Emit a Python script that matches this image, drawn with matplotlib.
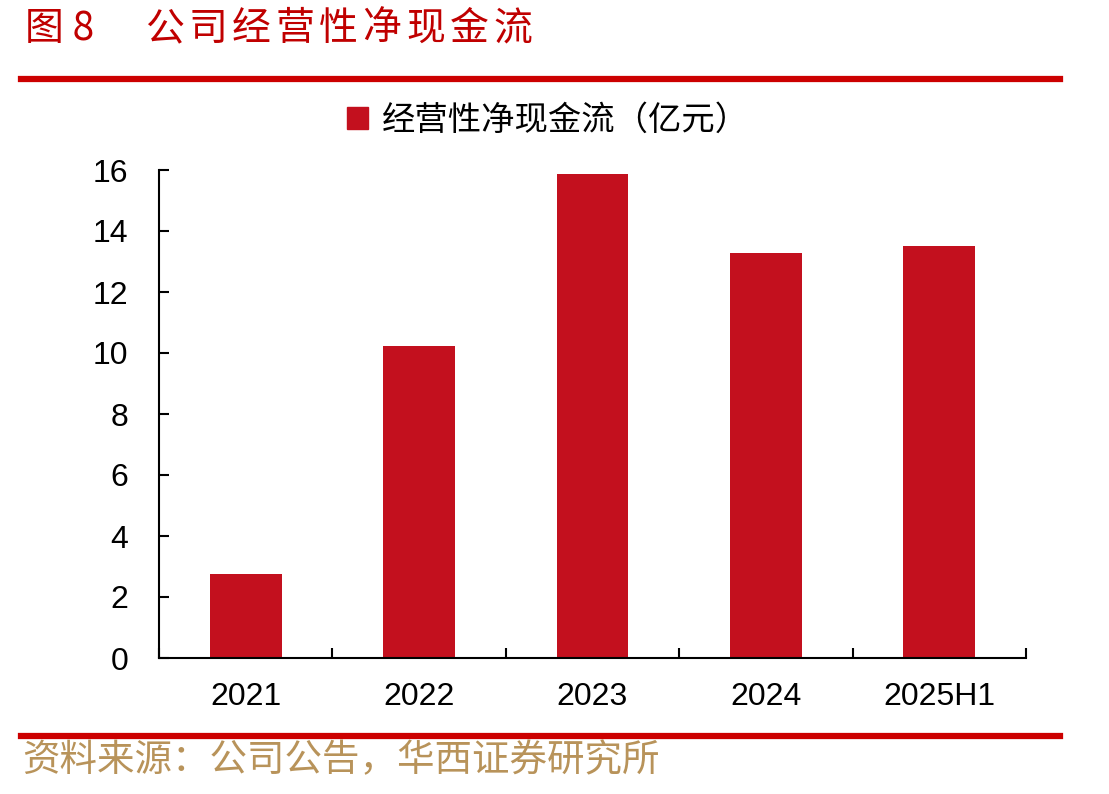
import numpy as np
import matplotlib
matplotlib.use("Agg")
from matplotlib import pyplot as plt
from matplotlib.lines import Line2D
from matplotlib.patches import Patch

plt.rcParams['font.family'] = ['Liberation Sans', 'Noto Sans CJK SC', 'DejaVu Sans']

# data (亿元)
years = ["2021", "2022", "2023", "2024", "2025H1"]
cash_flow = [2.75, 10.24, 15.88, 13.29, 13.52]
series_name = "经营性净现金流（亿元）"
title = "公司经营性净现金流"
source = "资料来源：公司公告，华西证券研究所"

bar_color = "#C3101E"
line_red = "#CC0000"
cjk = ['Noto Sans CJK SC', 'DejaVu Sans']

W, H = 1109, 794
fig = plt.figure(figsize=(W / 100, H / 100), dpi=100)
ax = fig.add_axes([159 / W, 1 - 658 / H, (1026 - 159) / W, (658 - 170) / H])

x = np.arange(len(years))
ax.bar(x, cash_flow, width=0.415, color=bar_color)

ax.set_xlim(-0.5, len(years) - 0.5)
ax.set_ylim(0, 16)
ax.set_yticks(np.arange(0, 17, 2))
ax.set_xticks(x)
ax.set_xticklabels(years)
ax.set_xticks(np.arange(-0.5, len(years), 1), minor=True)
ax.tick_params(axis='x', which='major', length=0, pad=17, labelsize=23)
ax.tick_params(axis='x', which='minor', direction='in', length=7, width=1.5)
ax.tick_params(axis='y', direction='in', length=7, width=1.5, pad=22, labelsize=23)
for s in ['top', 'right']:
    ax.spines[s].set_visible(False)
for s in ['left', 'bottom']:
    ax.spines[s].set_linewidth(1.5)

fig.legend(handles=[Patch(color=bar_color)], labels=[series_name],
           loc='center', bbox_to_anchor=(548 / W, 1 - 120 / H), frameon=False,
           prop={'family': cjk, 'size': 24}, handlelength=0.62, handleheight=0.62,
           handletextpad=0.4)

# header / footer
fig.text(25 / W, 1 - 29 / H, "图 8", color="#C00000", fontsize=28, va='center',
         family=cjk)
# title characters are spaced out a little
for i, ch in enumerate(title):
    fig.text((145 + i * 43.5) / W, 1 - 29 / H, ch, color="#C00000", fontsize=28,
             va='center', family=cjk)
fig.add_artist(Line2D([21 / W, 1060 / W], [1 - 79 / H, 1 - 79 / H], color=line_red,
                      linewidth=4.5, transform=fig.transFigure))
fig.add_artist(Line2D([21 / W, 1060 / W], [1 - 736 / H, 1 - 736 / H], color=line_red,
                      linewidth=4.5, transform=fig.transFigure))
fig.text(22 / W, 1 - 761 / H, source, color="#B8935A", fontsize=27, va='center',
         family=cjk)

fig.savefig("out.png", dpi=100)
